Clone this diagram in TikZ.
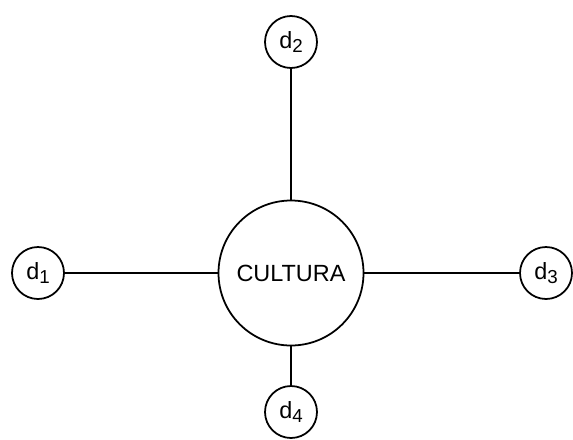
\documentclass[tikz,border=0pt]{standalone}
\usepackage{fontspec}
\setmainfont{Liberation Sans}
\usepackage{tikz}
\usetikzlibrary{positioning}
\newcommand{\dsub}[1]{d\raisebox{-0.35ex}{\fontsize{16}{18}\selectfont #1}}

\begin{document}
\begin{tikzpicture}[x=0.03cm, y=-0.03cm,
    core/.style={circle, draw, line width=1.5pt, minimum size=145*0.03cm, inner sep=0pt, font=\fontsize{20}{24}\selectfont},
    dim/.style={circle, draw, line width=1.5pt, minimum size=52*0.03cm, inner sep=0pt, font=\fontsize{20}{24}\selectfont},
    link/.style={line width=1.5pt}]
  \useasboundingbox (0,0) rectangle (573,439);

  % Central concept
  \node[core] (cultura) at (291,273) {CULTURA};

  % Dimensions
  \node[dim] (d1) at (38,273) {\dsub{1}};
  \node[dim] (d2) at (291,42)  {\dsub{2}};
  \node[dim] (d3) at (546,273) {\dsub{3}};
  \node[dim] (d4) at (291,412) {\dsub{4}};

  % Links
  \draw[link] (cultura.west)  -- (d1.east);
  \draw[link] (cultura.north) -- (d2.south);
  \draw[link] (cultura.east)  -- (d3.west);
  \draw[link] (cultura.south) -- (d4.north);
\end{tikzpicture}
\end{document}
